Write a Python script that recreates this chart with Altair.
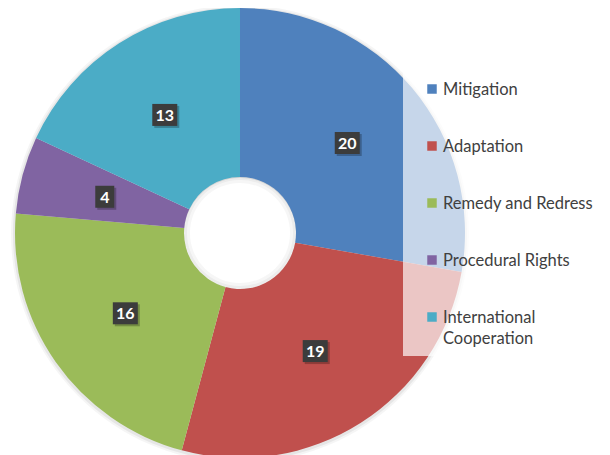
import altair as alt
import pandas as pd

categories = ["Mitigation", "Adaptation", "Remedy and Redress", "Procedural Rights", "International Cooperation"]
values = [20, 19, 16, 4, 13]
colors = ["#4F81BD", "#C0504D", "#9BBB59", "#8064A2", "#4BACC6"]
legend_labels = ["Mitigation", "Adaptation", "Remedy and Redress", "Procedural Rights", "International\nCooperation"]

df = pd.DataFrame({
    "category": categories,
    "value": values,
    "order": list(range(len(categories))),
    "legend_label": legend_labels,
})

W, H = 594, 447
CX, CY = 232, 225
R_OUT, R_IN, R_LAB = 225, 56, 140

color_scale = alt.Scale(domain=categories, range=colors)
xid = alt.Scale(domain=[0, W], range=[0, W], nice=False, zero=False)
yid = alt.Scale(domain=[0, H], range=[0, H], nice=False, zero=False)

dummy = pd.DataFrame({"k": [0]})

shadow1 = alt.Chart(dummy).mark_arc(theta=0, theta2=6.2832, radius=R_OUT + 4, radius2=R_IN,
                                    color="black", opacity=0.04).encode(x=alt.value(CX), y=alt.value(CY + 1))
shadow2 = alt.Chart(dummy).mark_arc(theta=0, theta2=6.2832, radius=R_OUT + 2, radius2=R_IN,
                                    color="black", opacity=0.06).encode(x=alt.value(CX), y=alt.value(CY + 1))

pie = alt.Chart(df).mark_arc(radius=R_OUT, radius2=R_IN).encode(
    theta=alt.Theta("value:Q", stack=True),
    order=alt.Order("order:Q"),
    color=alt.Color("category:N", scale=color_scale, legend=None),
    x=alt.value(CX),
    y=alt.value(CY),
)

hole1 = alt.Chart(dummy).mark_arc(theta=0, theta2=6.2832, radius=R_IN, radius2=R_IN - 6,
                                  color="#000000", opacity=0.035).encode(x=alt.value(CX), y=alt.value(CY))
hole2 = alt.Chart(dummy).mark_arc(theta=0, theta2=6.2832, radius=R_IN, radius2=R_IN - 3,
                                  color="#000000", opacity=0.04).encode(x=alt.value(CX), y=alt.value(CY))

lab_base = alt.Chart(df).transform_joinaggregate(
    total="sum(value)"
).transform_window(
    cum="sum(value)", sort=[alt.SortField("order")], frame=[None, 0]
).transform_calculate(
    mid="(datum.cum - datum.value / 2) / datum.total * 2 * PI"
).transform_calculate(
    cx=f"{CX} + {R_LAB} * sin(datum.mid)",
    cy=f"{CY} - {R_LAB} * cos(datum.mid)",
    hw="length(toString(datum.value)) > 1 ? 12.5 : 9.5",
).transform_calculate(
    x1="datum.cx - datum.hw", x2="datum.cx + datum.hw",
    y1="datum.cy - 11", y2="datum.cy + 11",
    sx1="datum.cx - datum.hw + 2", sx2="datum.cx + datum.hw + 2",
    sy1="datum.cy - 11 + 2", sy2="datum.cy + 11 + 2",
)

box_shadow = lab_base.mark_rect(color="black", opacity=0.25).encode(
    x=alt.X("sx1:Q", scale=xid, axis=None), x2="sx2:Q",
    y=alt.Y("sy1:Q", scale=yid, axis=None), y2="sy2:Q",
)
boxes = lab_base.mark_rect(color="#3c3c3c").encode(
    x=alt.X("x1:Q", scale=xid, axis=None), x2="x2:Q",
    y=alt.Y("y1:Q", scale=yid, axis=None), y2="y2:Q",
)
texts = lab_base.mark_text(color="white", font="Lato", fontSize=16, fontWeight="bold",
                           align="center", baseline="middle", dy=1).encode(
    x=alt.X("cx:Q", scale=xid, axis=None),
    y=alt.Y("cy:Q", scale=yid, axis=None),
    text="value:Q",
)

legend_bg = alt.Chart(dummy).mark_rect(color="white", opacity=0.68).encode(
    x=alt.value(395), x2=alt.value(W), y=alt.value(62), y2=alt.value(348)
)

leg_y = alt.Y("category:N", scale=alt.Scale(domain=categories, range=[81, 309], padding=0), axis=None)
leg_sym = alt.Chart(df).mark_square(size=90, opacity=1).encode(
    x=alt.value(424),
    y=leg_y,
    color=alt.Color("category:N", scale=color_scale, legend=None),
)
leg_txt = alt.Chart(df).mark_text(align="left", baseline="alphabetic", dy=6, font="Lato",
                                  fontSize=16.5, color="#404040", lineBreak="\n", lineHeight=21).encode(
    x=alt.value(435),
    y=leg_y,
    text="legend_label:N",
)

main = alt.layer(shadow1, shadow2, pie, hole1, hole2, box_shadow, boxes, texts)
leg = alt.layer(legend_bg, leg_sym, leg_txt)

chart = alt.layer(main, leg).resolve_scale(y="independent", x="independent").properties(
    width=W, height=H, padding=0,
    autosize=alt.AutoSizeParams(type="none"),
).configure_view(stroke=None)

chart.save("out.html", embed_options={"renderer": "svg", "actions": False})
